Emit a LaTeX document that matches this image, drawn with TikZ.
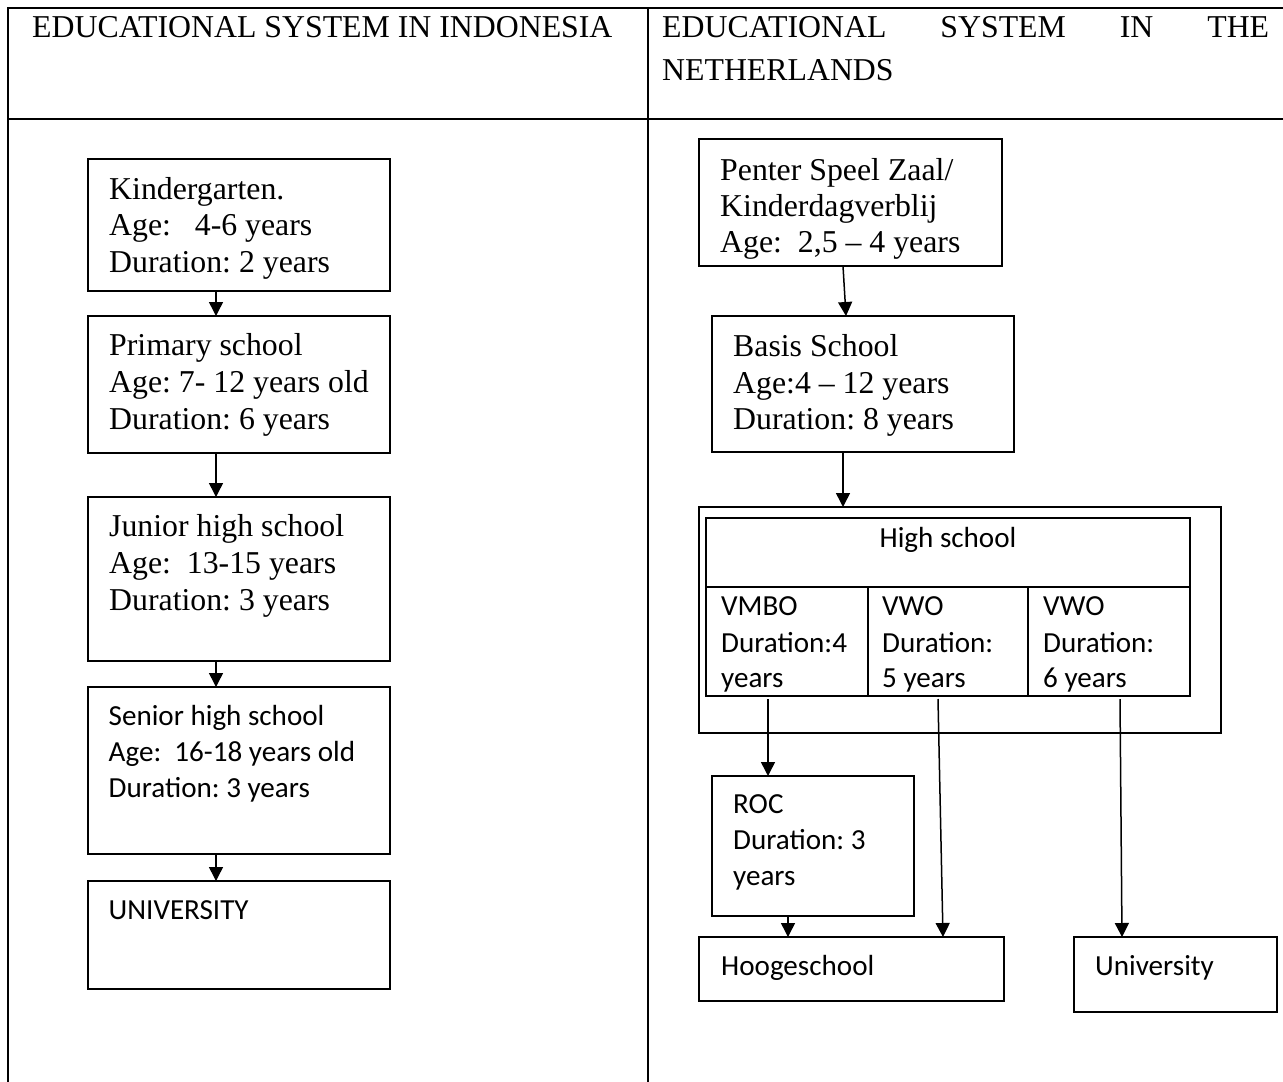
\documentclass[tikz,border=0pt]{standalone}
\usepackage{fontspec}
\setmainfont{Liberation Serif}
\newfontfamily\calib{Carlito}
\usetikzlibrary{arrows.meta}
\begin{document}
\frenchspacing
\begin{tikzpicture}[x=1pt,y=-1pt,
  box/.style={draw, line width=1.9pt, anchor=north west, inner sep=0pt, outer sep=0pt},
  ser/.style={anchor=base west, inner sep=0pt, font=\frenchspacing\fontsize{31.8}{36.5}\selectfont},
  san/.style={anchor=base west, inner sep=0pt, font=\frenchspacing\calib\fontsize{29.1}{35.7}\selectfont},
  arr/.style={line width=1.5pt, -{Triangle[length=14pt,width=14pt]}},
  frame/.style={line width=2pt}]
\useasboundingbox (0,0) rectangle (1283,1082);
% table frame
\draw[frame] (8,1082) -- (8,8) -- (1283,8);
\draw[frame] (8,119) -- (1283,119);
\draw[frame] (648,8) -- (648,1082);
% headers
\node[ser] (hl) at (32,37) {EDUCATIONAL SYSTEM IN INDONESIA};
\node[ser] (hr1) at (662,37) {\hbox to 607pt{EDUCATIONAL\hfill SYSTEM\hfill IN\hfill THE}};
\node[ser] (hr2) at (662,80) {NETHERLANDS};
% left column boxes
\node[box, minimum width=302pt, minimum height=132pt] (kg) at (88,159) {};
\node[box, minimum width=302pt, minimum height=137pt] (prim) at (88,316) {};
\node[box, minimum width=302pt, minimum height=164pt] (jun) at (88,497) {};
\node[box, minimum width=302pt, minimum height=167pt] (sen) at (88,687) {};
\node[box, minimum width=302pt, minimum height=108pt] (uni) at (88,881) {};
% left texts
\node[ser] (kg1) at (109,199) {Kindergarten.};
\node[ser] (kg2) at (109,235) {Age:\ \ \ 4-6 years};
\node[ser] (kg3) at (109,272) {Duration: 2 years};
\node[ser] (pr1) at (109,355) {Primary school};
\node[ser] (pr2) at (109,392) {Age: 7- 12 years old};
\node[ser] (pr3) at (109,429) {Duration: 6 years};
\node[ser] (ju1) at (109,536) {Junior high school};
\node[ser] (ju2) at (109,573) {Age:\ \ 13-15 years};
\node[ser] (ju3) at (109,610) {Duration: 3 years};
\node[san] (se1) at (108.5,725) {Senior high school};
\node[san] (se2) at (108.5,761) {Age:\ \ 16-18 years old};
\node[san] (se3) at (108.5,797) {Duration: 3 years};
\node[san] (un1) at (108.5,919) {UNIVERSITY};
% left arrows
\draw[arr] ([xshift=128pt]kg.south west) -- ([xshift=128pt]prim.north west);
\draw[arr] ([xshift=128pt]prim.south west) -- ([xshift=128pt]jun.north west);
\draw[arr] ([xshift=128pt]jun.south west) -- ([xshift=128pt]sen.north west);
\draw[arr] ([xshift=128pt]sen.south west) -- ([xshift=128pt]uni.north west);
% right column boxes
\node[box, minimum width=303pt, minimum height=127pt] (pen) at (699,139) {};
\node[box, minimum width=302pt, minimum height=136pt] (basis) at (712,316) {};
\node[box, minimum width=522pt, minimum height=226pt] (hsout) at (699,507) {};
\node[box, minimum width=484pt, minimum height=69pt] (hshead) at (706,518) {};
\node[box, minimum width=162pt, minimum height=109pt] (vmbo) at (706,587) {};
\node[box, minimum width=160pt, minimum height=109pt] (vwo5) at (868,587) {};
\node[box, minimum width=162pt, minimum height=109pt] (vwo6) at (1028,587) {};
\node[box, minimum width=202pt, minimum height=140pt] (roc) at (712,776) {};
\node[box, minimum width=305pt, minimum height=64pt] (hoog) at (699,937) {};
\node[box, minimum width=203pt, minimum height=75pt] (univ) at (1074,937) {};
% right texts
\node[ser] (pe1) at (720,180) {Penter Speel Zaal/};
\node[ser] (pe2) at (720,216) {Kinderdagverblij};
\node[ser] (pe3) at (720,252) {Age:\ \ 2,5 – 4 years};
\node[ser] (ba1) at (733,356) {Basis School};
\node[ser] (ba2) at (733,393) {Age:4 – 12 years};
\node[ser] (ba3) at (733,429) {Duration: 8 years};
\node[san, anchor=base] (hs1) at (948,547) {High school};
\node[san] (vm1) at (721,615) {VMBO};
\node[san] (vm2) at (721,652) {Duration:4};
\node[san] (vm3) at (721,687) {years};
\node[san] (v51) at (882,615) {VWO};
\node[san] (v52) at (882,652) {Duration:};
\node[san] (v53) at (882,687) {5 years};
\node[san] (v61) at (1043,615) {VWO};
\node[san] (v62) at (1043,652) {Duration:};
\node[san] (v63) at (1043,687) {6 years};
\node[san] (ro1) at (733,813) {ROC};
\node[san] (ro2) at (733,849) {Duration: 3};
\node[san] (ro3) at (733,885) {years};
\node[san] (ho1) at (721,975) {Hoogeschool};
\node[san] (uv1) at (1095,975) {University};
% right arrows
\draw[arr] ([xshift=144pt]pen.south west) -- ([xshift=134pt]basis.north west);
\draw[arr] ([xshift=131pt]basis.south west) -- ([xshift=144pt]hsout.north west);
\draw[arr] ([xshift=62pt,yshift=-3pt]vmbo.south west) -- ([xshift=56pt]roc.north west);
\draw[arr] ([xshift=70pt,yshift=-3pt]vwo5.south west) -- ([xshift=244pt]hoog.north west);
\draw[arr] ([xshift=92pt,yshift=-3pt]vwo6.south west) -- ([xshift=48pt]univ.north west);
\draw[arr] ([xshift=76pt]roc.south west) -- ([xshift=89pt]hoog.north west);
\end{tikzpicture}
\end{document}
